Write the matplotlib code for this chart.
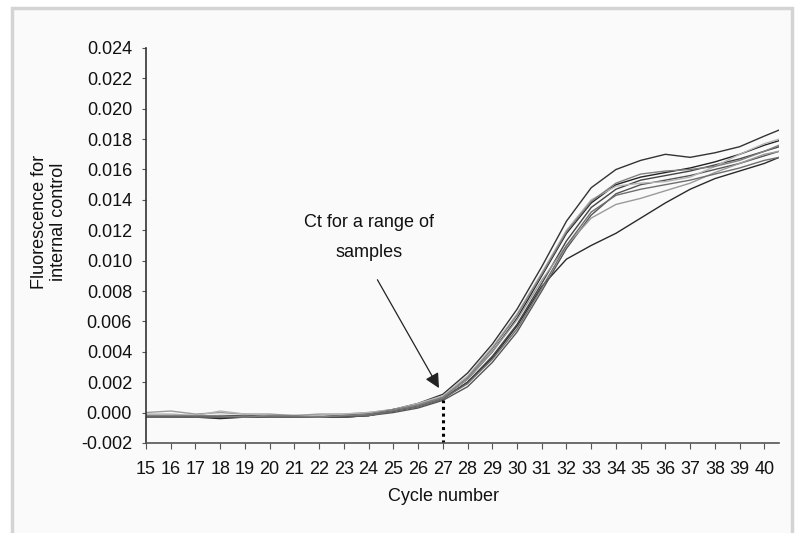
import numpy as np
import matplotlib
matplotlib.use('Agg')
import matplotlib.pyplot as plt
from matplotlib.patches import Rectangle

plt.rcParams['font.family'] = ['Liberation Sans', 'DejaVu Sans']

cycles = [15, 16, 17, 18, 19, 20, 21, 22, 23, 24, 25, 26, 27, 28, 29, 30,
          31, 32, 33, 34, 35, 36, 37, 38, 39, 40, 40.6]

base = [-0.0002, -0.0002, -0.0003, -0.0002, -0.0002, -0.0003, -0.0003, -0.0002, -0.0002, -0.0001]

# fluorescence traces (one per sample)
curve_a = base + [0.0002, 0.0006, 0.0012, 0.0026, 0.0045, 0.0068, 0.0096, 0.0126, 0.0148,
                  0.0160, 0.0166, 0.0170, 0.0168, 0.0171, 0.0175, 0.0182, 0.0186]
curve_b = [-0.0003, -0.0003, -0.0003, -0.0004, -0.0003, -0.0003, -0.0003, -0.0003, -0.0003, -0.0002] + \
          [0.0001, 0.0004, 0.0009, 0.0020, 0.0036, 0.0057, 0.0083, 0.0101, 0.0110,
           0.0118, 0.0128, 0.0138, 0.0147, 0.0154, 0.0159, 0.0164, 0.0168]
curve_c = [-0.0002, -0.0003, -0.0003, -0.0003, -0.0002, -0.0002, -0.0003, -0.0003, -0.0002, -0.0001] + \
          [0.0002, 0.0005, 0.0010, 0.0022, 0.0040, 0.0062, 0.0090, 0.0118, 0.0138,
           0.0150, 0.0155, 0.0158, 0.0161, 0.0165, 0.0170, 0.0176, 0.0179]
curve_d = [-0.0003, -0.0003, -0.0002, -0.0003, -0.0003, -0.0002, -0.0003, -0.0003, -0.0003, -0.0002] + \
          [0.0001, 0.0004, 0.0009, 0.0020, 0.0037, 0.0058, 0.0085, 0.0113, 0.0135,
           0.0147, 0.0153, 0.0156, 0.0159, 0.0163, 0.0167, 0.0172, 0.0175]
curve_e = [-0.0002, -0.0002, -0.0002, -0.0003, -0.0003, -0.0003, -0.0002, -0.0002, -0.0003, -0.0002] + \
          [0.0000, 0.0003, 0.0008, 0.0017, 0.0033, 0.0053, 0.0080, 0.0108, 0.0130,
           0.0144, 0.0150, 0.0153, 0.0156, 0.0160, 0.0164, 0.0169, 0.0172]
curve_f = [0.0000, 0.0001, -0.0001, 0.0000, -0.0001, -0.0001, -0.0002, -0.0001, -0.0001, 0.0000] + \
          [0.0002, 0.0005, 0.0010, 0.0022, 0.0040, 0.0061, 0.0087, 0.0110, 0.0128,
           0.0137, 0.0141, 0.0146, 0.0151, 0.0158, 0.0164, 0.0170, 0.0172]
curve_g = [-0.0001, -0.0001, -0.0002, 0.0001, -0.0001, -0.0002, -0.0002, -0.0002, -0.0001, 0.0000] + \
          [0.0002, 0.0006, 0.0011, 0.0024, 0.0043, 0.0065, 0.0092, 0.0120, 0.0140,
           0.0149, 0.0151, 0.0152, 0.0155, 0.0162, 0.0170, 0.0177, 0.0180]
curve_h = [-0.0003, -0.0003, -0.0003, -0.0003, -0.0002, -0.0003, -0.0003, -0.0003, -0.0002, -0.0002] + \
          [0.0001, 0.0004, 0.0009, 0.0019, 0.0035, 0.0055, 0.0082, 0.0110, 0.0132,
           0.0143, 0.0147, 0.0150, 0.0153, 0.0157, 0.0161, 0.0166, 0.0168]
curve_i = [-0.0002, -0.0002, -0.0002, -0.0002, -0.0003, -0.0002, -0.0002, -0.0003, -0.0002, -0.0001] + \
          [0.0002, 0.0005, 0.0010, 0.0023, 0.0042, 0.0064, 0.0091, 0.0119, 0.0139,
           0.0151, 0.0157, 0.0159, 0.0160, 0.0162, 0.0166, 0.0172, 0.0176]

curves = [curve_a, curve_b, curve_c, curve_d, curve_e, curve_f, curve_g, curve_h, curve_i]
colours = ['#333333', '#2a2a2a', '#222222', '#444444', '#555555', '#9a9a9a', '#b5b5b5', '#6e6e6e', '#808080']

yticks = [-0.002, 0.000, 0.002, 0.004, 0.006, 0.008, 0.010, 0.012, 0.014, 0.016, 0.018, 0.020, 0.022, 0.024]
xticks = list(range(15, 41))

ct_cycle = 27
ct_level = 0.0008

fs = 13

fig = plt.figure(figsize=(8, 5.33), dpi=100)
fig.patch.set_facecolor('white')
fig.patches.append(Rectangle((0.015, -0.05), 0.975, 1.035, transform=fig.transFigure,
                             facecolor='#fafafa', edgecolor='#d4d4d4', lw=2.5, zorder=-10))

ax = fig.add_axes([0.1825, 0.169, 0.7915, 0.741])
ax.set_facecolor('none')

for c, col in zip(curves, colours):
    ax.plot(cycles, c, color=col, lw=1.0)

ax.plot([ct_cycle, ct_cycle], [-0.002, ct_level], color='black', lw=2.2, ls=(0, (1, 1.2)))

ax.annotate('', xy=(26.9, 0.00145), xytext=(24.3, 0.0089),
            arrowprops=dict(arrowstyle='-|>', color='#222222', lw=0.9, mutation_scale=22))
ax.text(24.0, 0.0115, 'Ct for a range of\nsamples', ha='center', va='center',
        fontsize=fs, linespacing=2.0, color='#111111')

ax.set_xlim(15, 40.6)
ax.set_ylim(-0.002, 0.024)
ax.set_xticks(xticks)
ax.set_yticks(yticks)
ax.set_yticklabels(['%.3f' % v for v in yticks])
ax.tick_params(axis='both', labelsize=fs, colors='#111111', direction='out')
ax.tick_params(axis='x', length=4, pad=9, color='#555555')
ax.tick_params(axis='y', length=3, pad=7, color='#555555')

for s in ['top', 'right']:
    ax.spines[s].set_visible(False)
ax.spines['left'].set_color('#333333')
ax.spines['bottom'].set_color('#555555')
ax.spines['left'].set_linewidth(1.2)
ax.spines['bottom'].set_linewidth(1.2)

ax.set_xlabel('Cycle number', fontsize=fs, color='#111111')
ax.xaxis.set_label_coords(0.47, -0.115)
ax.set_ylabel('Fluorescence for\ninternal control', fontsize=fs, color='#111111', linespacing=1.15)
ax.yaxis.set_label_coords(-0.125, 0.56)

fig.savefig('out.png', dpi=100)
